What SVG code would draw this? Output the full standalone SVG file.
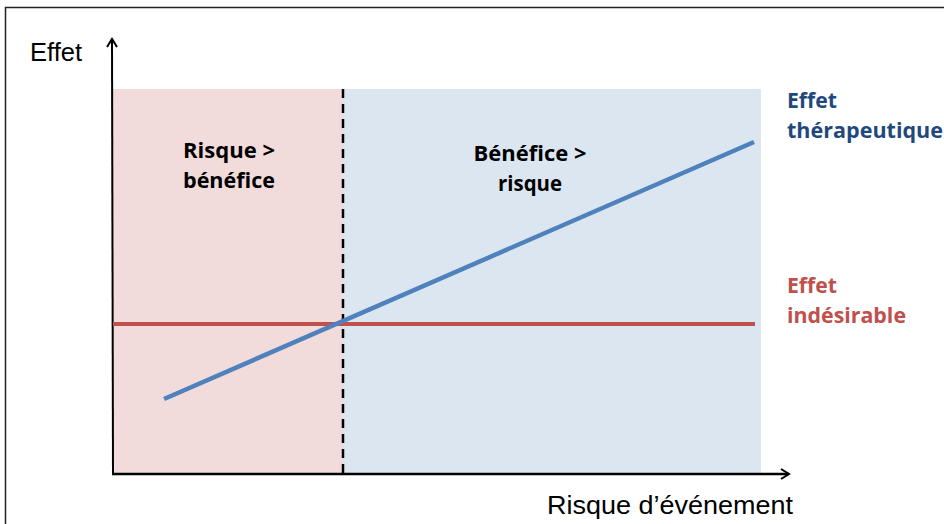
<svg xmlns="http://www.w3.org/2000/svg" width="944" height="524" viewBox="0 0 944 524">
<defs>
<style>
.t{font-family:"Liberation Sans",Arial,sans-serif;font-size:25px;fill:#000}
.b{font-family:"Open Sans","Liberation Sans",sans-serif;font-weight:bold;font-size:21px;fill:#000}
.blue{fill:#1f497d}
.red{fill:#c0504d}
</style>
<marker id="ah" viewBox="0 0 12 12" refX="10" refY="6" markerWidth="12" markerHeight="12" markerUnits="userSpaceOnUse" orient="auto">
<path d="M2,1 L10,6 L2,11" fill="none" stroke="#000" stroke-width="2"/>
</marker>
</defs>
<rect x="0" y="0" width="944" height="524" fill="#fff"/>
<path d="M5.5,524 V7.5 H944" fill="none" stroke="#222" stroke-width="1.5"/>
<g id="zone-risque">
<rect x="113" y="89" width="230" height="384" fill="#f2dcdb"/>
<text class="b" x="229" y="158" text-anchor="middle" textLength="92" lengthAdjust="spacingAndGlyphs">Risque &gt;</text>
<text class="b" x="229" y="188" text-anchor="middle" textLength="92" lengthAdjust="spacingAndGlyphs">bénéfice</text>
</g>
<g id="zone-benefice">
<rect x="343" y="89" width="418" height="384" fill="#dce6f1"/>
<text class="b" x="530" y="161" text-anchor="middle" textLength="113" lengthAdjust="spacingAndGlyphs">Bénéfice &gt;</text>
<text class="b" x="530" y="191" text-anchor="middle" textLength="64" lengthAdjust="spacingAndGlyphs">risque</text>
</g>
<g id="connectors">
<line x1="343" y1="89" x2="343" y2="473" stroke="#000" stroke-width="2.5" stroke-dasharray="9,6"/>
<line x1="113" y1="474" x2="112" y2="39" stroke="#000" stroke-width="2" marker-end="url(#ah)"/>
<line x1="112" y1="474" x2="789" y2="474" stroke="#000" stroke-width="2.5" marker-end="url(#ah)"/>
<line x1="113" y1="324" x2="755" y2="324" stroke="#c0504d" stroke-width="4"/>
<line x1="164" y1="399" x2="754" y2="142" stroke="#4f81bd" stroke-width="4.5"/>
</g>
<g id="axis-y-label">
<text class="t" x="30" y="61" textLength="52" lengthAdjust="spacingAndGlyphs">Effet</text>
</g>
<g id="axis-x-label">
<text class="t" x="547" y="514" textLength="246" lengthAdjust="spacingAndGlyphs">Risque d’événement</text>
</g>
<g id="label-therapeutique">
<text class="b blue" x="787" y="108" textLength="50" lengthAdjust="spacingAndGlyphs">Effet</text>
<text class="b blue" x="787" y="138" textLength="156" lengthAdjust="spacingAndGlyphs">thérapeutique</text>
</g>
<g id="label-indesirable">
<text class="b red" x="787" y="293" textLength="50" lengthAdjust="spacingAndGlyphs">Effet</text>
<text class="b red" x="787" y="323" textLength="119" lengthAdjust="spacingAndGlyphs">indésirable</text>
</g>
</svg>
